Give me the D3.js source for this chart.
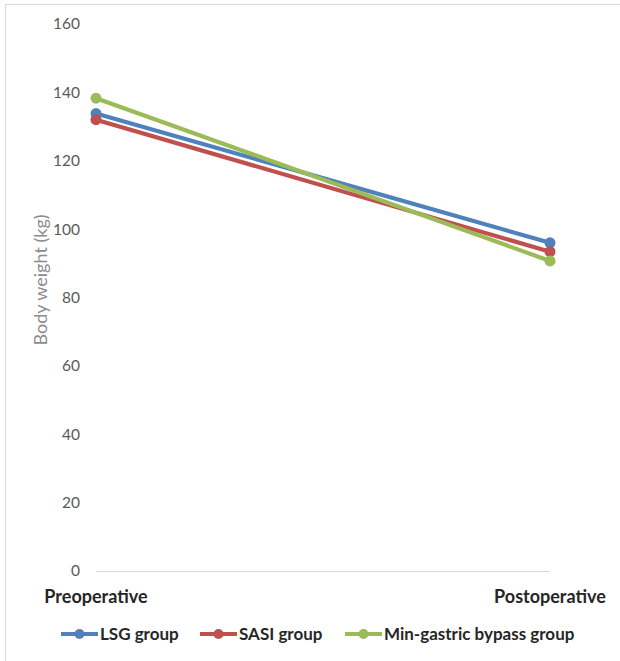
<!DOCTYPE html>
<html>
<head>
<meta charset="utf-8">
<script src="https://cdn.jsdelivr.net/npm/d3@7"></script>
<style>
  html, body { margin: 0; padding: 0; background: #fff; }
  svg { display: block; font-family: Lato, "Open Sans", sans-serif; }
</style>
</head>
<body>
<svg id="chart" width="620" height="661"></svg>
<script>
// Body weight before and after surgery, by group
const categories = ["Preoperative", "Postoperative"];
const seriesNames = ["LSG group", "SASI group", "Min-gastric bypass group"];
const lsgValues = [133.8, 96.0];
const sasiValues = [132.0, 93.4];
const mgbValues = [138.3, 90.7];
const seriesColors = ["#4F81BD", "#C0504D", "#9BBB59"];
const yTicks = [0, 20, 40, 60, 80, 100, 120, 140, 160];
const yTitle = "Body weight (kg)";

const series = [
  { name: seriesNames[0], values: lsgValues, color: seriesColors[0] },
  { name: seriesNames[1], values: sasiValues, color: seriesColors[1] },
  { name: seriesNames[2], values: mgbValues, color: seriesColors[2] }
];

const svg = d3.select("#chart");

// outer chart frame
svg.append("rect")
  .attr("x", 5.5).attr("y", 4.5)
  .attr("width", 640).attr("height", 700)
  .attr("fill", "none").attr("stroke", "#d9d9d9").attr("stroke-width", 1);

const plot = { left: 96, right: 550, top: 24, bottom: 571 };

const x = d3.scalePoint().domain(categories).range([plot.left, plot.right]);
const y = d3.scaleLinear().domain([0, 160]).range([plot.bottom, plot.top]);

// value axis: labels only
const yAxis = svg.append("g")
  .attr("transform", `translate(${plot.left},0)`)
  .call(d3.axisLeft(y).tickValues(yTicks).tickSize(0).tickPadding(16));
yAxis.select(".domain").remove();
yAxis.selectAll("text")
  .attr("fill", "#595959").attr("font-size", 15.5)
  .style("font-family", "Lato, 'Open Sans', sans-serif");

// category axis line at zero
svg.append("line")
  .attr("x1", plot.left).attr("x2", plot.right)
  .attr("y1", y(0) + 0.5).attr("y2", y(0) + 0.5)
  .attr("stroke", "#d9d9d9").attr("stroke-width", 1);

// category labels
svg.selectAll("text.cat")
  .data(categories)
  .enter().append("text")
  .attr("class", "cat")
  .attr("x", d => x(d))
  .attr("y", 603)
  .attr("text-anchor", "middle")
  .attr("font-size", 18).attr("font-weight", "bold")
  .attr("fill", "#262626")
  .text(d => d);

// y axis title
svg.append("text")
  .attr("transform", `translate(47,280) rotate(-90)`)
  .attr("text-anchor", "middle")
  .attr("font-size", 18)
  .attr("fill", "#8c8c8c")
  .text(yTitle);

// lines and markers
const line = d3.line()
  .x((d, i) => x(categories[i]))
  .y(d => y(d));

const g = svg.selectAll("g.series")
  .data(series)
  .enter().append("g")
  .attr("class", "series");

g.append("path")
  .attr("d", d => line(d.values))
  .attr("fill", "none")
  .attr("stroke", d => d.color)
  .attr("stroke-width", 4.2)
  .attr("stroke-linecap", "round");

g.selectAll("circle")
  .data(d => d.values.map((v, i) => ({ v, i, color: d.color })))
  .enter().append("circle")
  .attr("cx", d => x(categories[d.i]))
  .attr("cy", d => y(d.v))
  .attr("r", 5.5)
  .attr("fill", d => d.color);

// legend
const legendX = [61, 200, 345];
const legend = svg.selectAll("g.legend")
  .data(series)
  .enter().append("g")
  .attr("class", "legend")
  .attr("transform", (d, i) => `translate(${legendX[i]},634)`);

legend.append("line")
  .attr("x1", 0).attr("x2", 37)
  .attr("y1", 0).attr("y2", 0)
  .attr("stroke", d => d.color).attr("stroke-width", 4);
legend.append("circle")
  .attr("cx", 18.5).attr("cy", 0).attr("r", 5)
  .attr("fill", d => d.color);
legend.append("text")
  .attr("x", 39).attr("y", 6)
  .attr("font-size", 17).attr("font-weight", "bold")
  .attr("fill", "#262626")
  .text(d => d.name);
</script>
</body>
</html>
